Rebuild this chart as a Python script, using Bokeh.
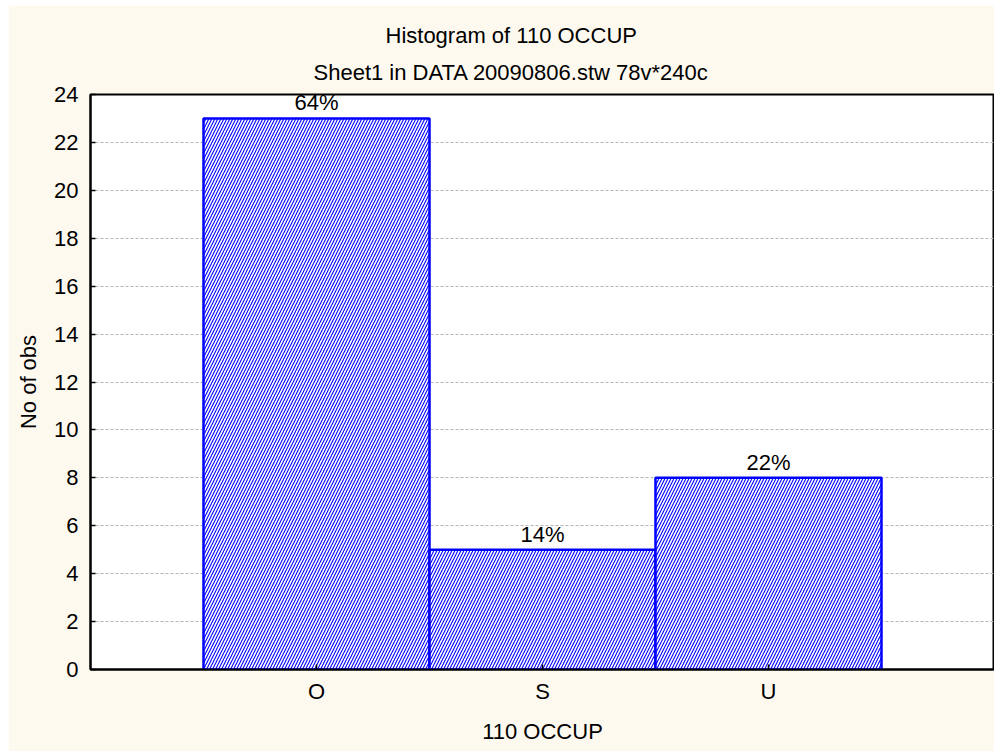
from bokeh.plotting import figure
from bokeh.models import (Range1d, LinearAxis, FixedTicker, SingleIntervalTicker,
                          ColumnDataSource, Title)
from bokeh.core.properties import value
from bokeh.embed import file_html
from bokeh.resources import INLINE

# ---- data ----
categories = ["O", "S", "U"]
counts = [23, 5, 8]
pct_labels = ["64%", "14%", "22%"]
title_text = "Histogram of 110 OCCUP"
subtitle_text = "Sheet1 in DATA 20090806.stw 78v*240c"
x_label = "110 OCCUP"
y_label = "No of obs"

FONT = "Liberation Sans"
FS = "22px"
BG = "#FEF9EF"
BLUE = "#0000FF"

xs = [i + 1 for i in range(len(categories))]
src = ColumnDataSource(dict(x=xs, top=counts, lab=pct_labels))

p = figure(width=986, height=746, output_backend="svg", toolbar_location=None,
           x_range=Range1d(0, 4.0), y_range=Range1d(0, 24),
           min_border_left=82, min_border_right=0, min_border_bottom=82,
           min_border_top=89, background_fill_color="white",
           border_fill_color=BG, x_axis_location=None, y_axis_location=None)
p.margin = (5, 0, 0, 8)
p.outline_line_color = "black"
p.outline_line_width = 2

def style_axis(ax):
    ax.axis_line_color = "black"
    ax.axis_line_width = 2
    ax.major_tick_in = 5
    ax.major_tick_out = 0
    ax.major_tick_line_width = 1.5
    ax.major_tick_line_color = "black"
    ax.minor_tick_line_color = None
    ax.major_label_text_font = FONT
    ax.major_label_text_color = "black"
    ax.major_label_text_font_size = FS
    ax.axis_label_text_font = FONT
    ax.axis_label_text_font_size = FS
    ax.axis_label_text_font_style = "normal"
    ax.axis_label_text_color = "black"

# left axis
left = LinearAxis(ticker=SingleIntervalTicker(interval=2), axis_label=y_label)
style_axis(left)
left.major_label_standoff = 8
left.axis_label_standoff = 10
p.add_layout(left, "left")

# bottom axis
bottom = LinearAxis(ticker=FixedTicker(ticks=xs), axis_label=x_label)
style_axis(bottom)
bottom.major_label_overrides = {x: c for x, c in zip(xs, categories)}
bottom.major_label_standoff = 9
bottom.axis_label_standoff = 12
p.add_layout(bottom, "below")

# titles (subtitle nearest the frame, main title above it)
p.title.text = ""
p.add_layout(Title(text=subtitle_text, align="left", offset=223, standoff=20,
                   text_font=FONT, text_font_size=FS, text_font_style="normal",
                   text_color="black"), "above")
p.add_layout(Title(text=title_text, align="left", offset=295, standoff=0,
                   text_font=FONT, text_font_size=FS, text_font_style="normal",
                   text_color="black"), "above")

# grid
p.xgrid.visible = False
p.ygrid.ticker = SingleIntervalTicker(interval=2)
p.ygrid.grid_line_color = "#b4b4b4"
p.ygrid.grid_line_dash = "3 2"
p.ygrid.grid_line_width = 1

# bars
p.vbar(x="x", top="top", bottom=0, width=1.0, source=src,
       fill_color="white", line_color=BLUE, line_width=2.5,
       hatch_pattern="/", hatch_color=BLUE, hatch_scale=6, hatch_weight=1.1)

# percentage labels
p.text(x="x", y="top", text="lab", source=src, text_align="center",
       text_baseline="bottom", y_offset=-3, text_font=value(FONT),
       text_font_size=FS, text_color="black")

open("out.html", "w").write(file_html(p, INLINE))
